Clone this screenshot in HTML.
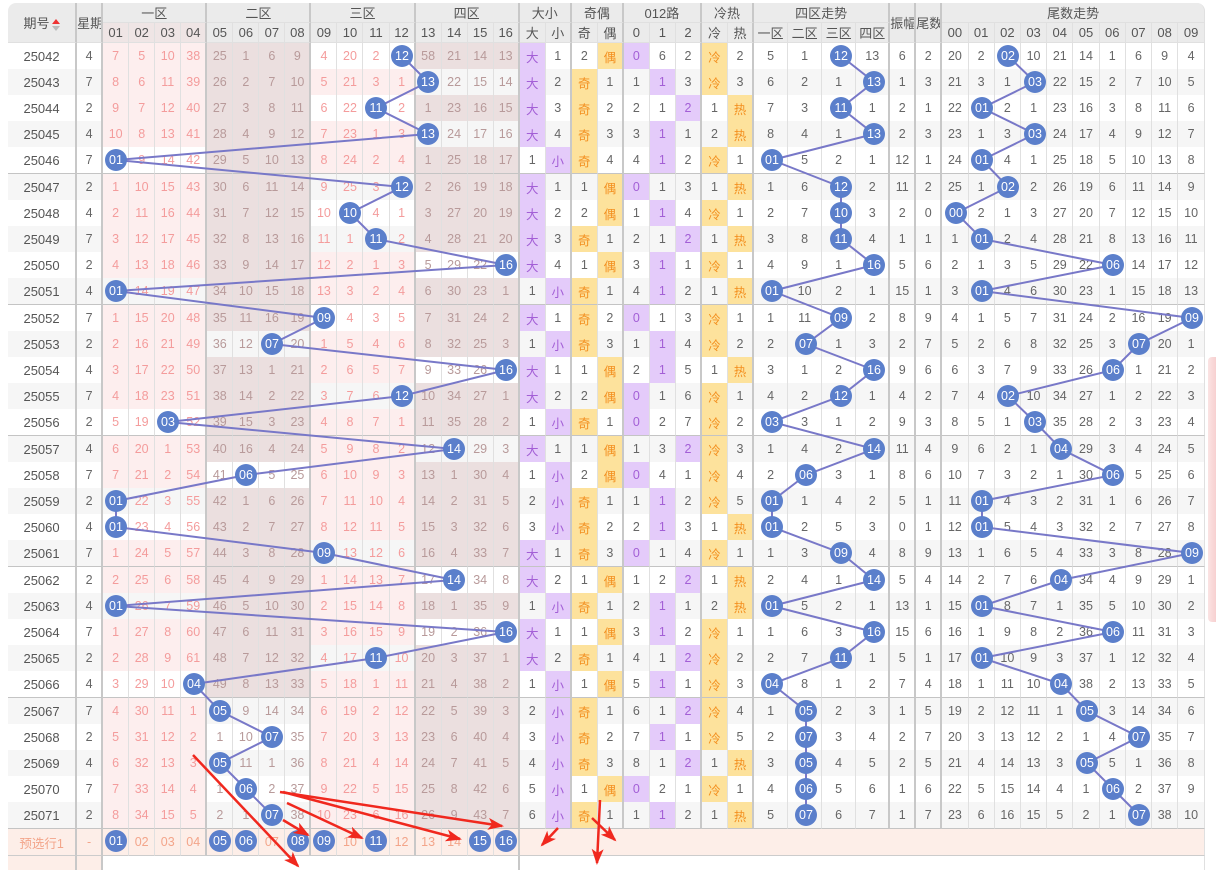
<!DOCTYPE html>
<html><head><meta charset="utf-8">
<style>
body{margin:0;width:1216px;height:869px;overflow:hidden;background:#fff;font-family:"Liberation Sans","Noto Sans CJK SC",sans-serif;position:relative}
table{position:absolute;left:8px;top:3px;border-collapse:separate;border-spacing:0;table-layout:fixed;width:1197px;font-size:12.5px;color:#666}
td,th{padding:0;text-align:center;border-right:1px solid #e0e0e0;white-space:nowrap;overflow:hidden;box-sizing:border-box}
th{background:#ebebeb;font-weight:normal;color:#555;height:20px;font-size:13px;border-bottom:1px solid #e0e0e0}
th.pk{background:#efe5e5}
th.r,td.r{border-right:2px solid #c8c8c8}
tr.d{height:26px}
tr.d td{height:26px}
tr.d.e td{height:27px}
tr.s{background:#f6f6f6}
tr.e td{border-bottom:1px solid #c4c4c4}
tr.d td:nth-child(1){color:#555;font-size:13px}
tr.d td:nth-child(1),tr.d td:nth-child(2),tr.d td:nth-child(6),tr.d td:nth-child(10),tr.d td:nth-child(14),tr.d td:nth-child(18),tr.d td:nth-child(20),tr.d td:nth-child(22),tr.d td:nth-child(25),tr.d td:nth-child(27),tr.d td:nth-child(31),tr.d td:nth-child(32),tr.d td:nth-child(33){border-right:2px solid #c8c8c8}
tr.d td:nth-child(n+3):nth-child(-n+6),tr.d td:nth-child(n+11):nth-child(-n+14){color:#f49c9c;background:#fdeeee}
tr.d td:nth-child(n+7):nth-child(-n+10),tr.d td:nth-child(n+15):nth-child(-n+18){color:#b89a9a;background:#ebdfdf}
tr.h1 td:nth-child(n+3):nth-child(-n+6){background:transparent!important}
tr.h2 td:nth-child(n+7):nth-child(-n+10){background:transparent!important}
tr.h3 td:nth-child(n+11):nth-child(-n+14){background:transparent!important}
tr.h4 td:nth-child(n+15):nth-child(-n+18){background:transparent!important}
td.v{background:#e4cbfa!important;color:#a35fd6}
td.o{background:#fde29c!important;color:#f39020}
tr.ps td{height:27px;background:#fdeee8;color:#f3a58a;font-size:12.5px;border-bottom:1px solid #ccc}
tr.bl td{height:14px;background:#fff}
.sort{display:inline-block;vertical-align:middle;margin-left:2px;width:8px;height:12px;position:relative}
.sort:before{content:"";position:absolute;left:0;top:0;border:4px solid transparent;border-bottom:5px solid #e33;border-top:0}
.sort:after{content:"";position:absolute;left:0;top:7px;border:4px solid transparent;border-top:5px solid #bbb;border-bottom:0}
</style></head><body>
<table>
<colgroup><col style="width:69px"><col style="width:26px">
<col style="width:26px"><col style="width:26px"><col style="width:26px"><col style="width:26px"><col style="width:26px"><col style="width:26px"><col style="width:26px"><col style="width:26px"><col style="width:26px"><col style="width:26px"><col style="width:26px"><col style="width:26px"><col style="width:26px"><col style="width:26px"><col style="width:26px"><col style="width:26px">
<col style="width:26px"><col style="width:26px"><col style="width:26px"><col style="width:26px"><col style="width:26px"><col style="width:26px"><col style="width:26px"><col style="width:26px"><col style="width:26px">
<col style="width:34px"><col style="width:34px"><col style="width:34px"><col style="width:34px"><col style="width:26px"><col style="width:26px">
<col style="width:26.2px"><col style="width:26.2px"><col style="width:26.2px"><col style="width:26.2px"><col style="width:26.2px"><col style="width:26.2px"><col style="width:26.2px"><col style="width:26.2px"><col style="width:26.2px"><col style="width:26.2px"></colgroup>
<thead>
<tr><th rowspan="2" class="r" style="border-top-left-radius:8px">期号<span class="sort"></span></th><th rowspan="2" class="r">星期</th><th colspan="4" class="r">一区</th><th colspan="4" class="r">二区</th><th colspan="4" class="r">三区</th><th colspan="4" class="r">四区</th><th colspan="2" class="r">大小</th><th colspan="2" class="r">奇偶</th><th colspan="3" class="r">012路</th><th colspan="2" class="r">冷热</th><th colspan="4" class="r">四区走势</th><th rowspan="2" class="r">振幅</th><th rowspan="2" class="r">尾数</th><th colspan="10" style="border-top-right-radius:8px">尾数走势</th></tr>
<tr><th class="pk">01</th><th class="pk">02</th><th class="pk">03</th><th class="pk r">04</th><th>05</th><th>06</th><th>07</th><th class="r">08</th><th>09</th><th>10</th><th>11</th><th class="r">12</th><th>13</th><th>14</th><th>15</th><th class="r">16</th><th>大</th><th class="r">小</th><th>奇</th><th class="r">偶</th><th>0</th><th>1</th><th class="r">2</th><th>冷</th><th class="r">热</th><th>一区</th><th>二区</th><th>三区</th><th class="r">四区</th><th>00</th><th>01</th><th>02</th><th>03</th><th>04</th><th>05</th><th>06</th><th>07</th><th>08</th><th>09</th></tr>
</thead>
<tbody>
<tr class="d h3"><td>25042<td>4<td>7<td>5<td>10<td>38<td>25<td>1<td>6<td>9<td>4<td>20<td>2<td><td>58<td>21<td>14<td>13<td class="v">大<td>1<td>2<td class="o">偶<td class="v">0<td>6<td>2<td class="o">冷<td>2<td>5<td>1<td><td>13<td>6<td>2<td>20<td>2<td><td>10<td>21<td>14<td>1<td>6<td>9<td>4</tr>
<tr class="d s h4"><td>25043<td>7<td>8<td>6<td>11<td>39<td>26<td>2<td>7<td>10<td>5<td>21<td>3<td>1<td><td>22<td>15<td>14<td class="v">大<td>2<td class="o">奇<td>1<td>1<td class="v">1<td>3<td class="o">冷<td>3<td>6<td>2<td>1<td><td>1<td>3<td>21<td>3<td>1<td><td>22<td>15<td>2<td>7<td>10<td>5</tr>
<tr class="d h3"><td>25044<td>2<td>9<td>7<td>12<td>40<td>27<td>3<td>8<td>11<td>6<td>22<td><td>2<td>1<td>23<td>16<td>15<td class="v">大<td>3<td class="o">奇<td>2<td>2<td>1<td class="v">2<td>1<td class="o">热<td>7<td>3<td><td>1<td>2<td>1<td>22<td><td>2<td>1<td>23<td>16<td>3<td>8<td>11<td>6</tr>
<tr class="d s h4"><td>25045<td>4<td>10<td>8<td>13<td>41<td>28<td>4<td>9<td>12<td>7<td>23<td>1<td>3<td><td>24<td>17<td>16<td class="v">大<td>4<td class="o">奇<td>3<td>3<td class="v">1<td>1<td>2<td class="o">热<td>8<td>4<td>1<td><td>2<td>3<td>23<td>1<td>3<td><td>24<td>17<td>4<td>9<td>12<td>7</tr>
<tr class="d e h1"><td>25046<td>7<td><td>9<td>14<td>42<td>29<td>5<td>10<td>13<td>8<td>24<td>2<td>4<td>1<td>25<td>18<td>17<td>1<td class="v">小<td class="o">奇<td>4<td>4<td class="v">1<td>2<td class="o">冷<td>1<td><td>5<td>2<td>1<td>12<td>1<td>24<td><td>4<td>1<td>25<td>18<td>5<td>10<td>13<td>8</tr>
<tr class="d s h3"><td>25047<td>2<td>1<td>10<td>15<td>43<td>30<td>6<td>11<td>14<td>9<td>25<td>3<td><td>2<td>26<td>19<td>18<td class="v">大<td>1<td>1<td class="o">偶<td class="v">0<td>1<td>3<td>1<td class="o">热<td>1<td>6<td><td>2<td>11<td>2<td>25<td>1<td><td>2<td>26<td>19<td>6<td>11<td>14<td>9</tr>
<tr class="d h3"><td>25048<td>4<td>2<td>11<td>16<td>44<td>31<td>7<td>12<td>15<td>10<td><td>4<td>1<td>3<td>27<td>20<td>19<td class="v">大<td>2<td>2<td class="o">偶<td>1<td class="v">1<td>4<td class="o">冷<td>1<td>2<td>7<td><td>3<td>2<td>0<td><td>2<td>1<td>3<td>27<td>20<td>7<td>12<td>15<td>10</tr>
<tr class="d s h3"><td>25049<td>7<td>3<td>12<td>17<td>45<td>32<td>8<td>13<td>16<td>11<td>1<td><td>2<td>4<td>28<td>21<td>20<td class="v">大<td>3<td class="o">奇<td>1<td>2<td>1<td class="v">2<td>1<td class="o">热<td>3<td>8<td><td>4<td>1<td>1<td>1<td><td>2<td>4<td>28<td>21<td>8<td>13<td>16<td>11</tr>
<tr class="d h4"><td>25050<td>2<td>4<td>13<td>18<td>46<td>33<td>9<td>14<td>17<td>12<td>2<td>1<td>3<td>5<td>29<td>22<td><td class="v">大<td>4<td>1<td class="o">偶<td>3<td class="v">1<td>1<td class="o">冷<td>1<td>4<td>9<td>1<td><td>5<td>6<td>2<td>1<td>3<td>5<td>29<td>22<td><td>14<td>17<td>12</tr>
<tr class="d s e h1"><td>25051<td>4<td><td>14<td>19<td>47<td>34<td>10<td>15<td>18<td>13<td>3<td>2<td>4<td>6<td>30<td>23<td>1<td>1<td class="v">小<td class="o">奇<td>1<td>4<td class="v">1<td>2<td>1<td class="o">热<td><td>10<td>2<td>1<td>15<td>1<td>3<td><td>4<td>6<td>30<td>23<td>1<td>15<td>18<td>13</tr>
<tr class="d h3"><td>25052<td>7<td>1<td>15<td>20<td>48<td>35<td>11<td>16<td>19<td><td>4<td>3<td>5<td>7<td>31<td>24<td>2<td class="v">大<td>1<td class="o">奇<td>2<td class="v">0<td>1<td>3<td class="o">冷<td>1<td>1<td>11<td><td>2<td>8<td>9<td>4<td>1<td>5<td>7<td>31<td>24<td>2<td>16<td>19<td></tr>
<tr class="d s h2"><td>25053<td>2<td>2<td>16<td>21<td>49<td>36<td>12<td><td>20<td>1<td>5<td>4<td>6<td>8<td>32<td>25<td>3<td>1<td class="v">小<td class="o">奇<td>3<td>1<td class="v">1<td>4<td class="o">冷<td>2<td>2<td><td>1<td>3<td>2<td>7<td>5<td>2<td>6<td>8<td>32<td>25<td>3<td><td>20<td>1</tr>
<tr class="d h4"><td>25054<td>4<td>3<td>17<td>22<td>50<td>37<td>13<td>1<td>21<td>2<td>6<td>5<td>7<td>9<td>33<td>26<td><td class="v">大<td>1<td>1<td class="o">偶<td>2<td class="v">1<td>5<td>1<td class="o">热<td>3<td>1<td>2<td><td>9<td>6<td>6<td>3<td>7<td>9<td>33<td>26<td><td>1<td>21<td>2</tr>
<tr class="d s h3"><td>25055<td>7<td>4<td>18<td>23<td>51<td>38<td>14<td>2<td>22<td>3<td>7<td>6<td><td>10<td>34<td>27<td>1<td class="v">大<td>2<td>2<td class="o">偶<td class="v">0<td>1<td>6<td class="o">冷<td>1<td>4<td>2<td><td>1<td>4<td>2<td>7<td>4<td><td>10<td>34<td>27<td>1<td>2<td>22<td>3</tr>
<tr class="d e h1"><td>25056<td>2<td>5<td>19<td><td>52<td>39<td>15<td>3<td>23<td>4<td>8<td>7<td>1<td>11<td>35<td>28<td>2<td>1<td class="v">小<td class="o">奇<td>1<td class="v">0<td>2<td>7<td class="o">冷<td>2<td><td>3<td>1<td>2<td>9<td>3<td>8<td>5<td>1<td><td>35<td>28<td>2<td>3<td>23<td>4</tr>
<tr class="d s h4"><td>25057<td>4<td>6<td>20<td>1<td>53<td>40<td>16<td>4<td>24<td>5<td>9<td>8<td>2<td>12<td><td>29<td>3<td class="v">大<td>1<td>1<td class="o">偶<td>1<td>3<td class="v">2<td class="o">冷<td>3<td>1<td>4<td>2<td><td>11<td>4<td>9<td>6<td>2<td>1<td><td>29<td>3<td>4<td>24<td>5</tr>
<tr class="d h2"><td>25058<td>7<td>7<td>21<td>2<td>54<td>41<td><td>5<td>25<td>6<td>10<td>9<td>3<td>13<td>1<td>30<td>4<td>1<td class="v">小<td>2<td class="o">偶<td class="v">0<td>4<td>1<td class="o">冷<td>4<td>2<td><td>3<td>1<td>8<td>6<td>10<td>7<td>3<td>2<td>1<td>30<td><td>5<td>25<td>6</tr>
<tr class="d s h1"><td>25059<td>2<td><td>22<td>3<td>55<td>42<td>1<td>6<td>26<td>7<td>11<td>10<td>4<td>14<td>2<td>31<td>5<td>2<td class="v">小<td class="o">奇<td>1<td>1<td class="v">1<td>2<td class="o">冷<td>5<td><td>1<td>4<td>2<td>5<td>1<td>11<td><td>4<td>3<td>2<td>31<td>1<td>6<td>26<td>7</tr>
<tr class="d h1"><td>25060<td>4<td><td>23<td>4<td>56<td>43<td>2<td>7<td>27<td>8<td>12<td>11<td>5<td>15<td>3<td>32<td>6<td>3<td class="v">小<td class="o">奇<td>2<td>2<td class="v">1<td>3<td>1<td class="o">热<td><td>2<td>5<td>3<td>0<td>1<td>12<td><td>5<td>4<td>3<td>32<td>2<td>7<td>27<td>8</tr>
<tr class="d s e h3"><td>25061<td>7<td>1<td>24<td>5<td>57<td>44<td>3<td>8<td>28<td><td>13<td>12<td>6<td>16<td>4<td>33<td>7<td class="v">大<td>1<td class="o">奇<td>3<td class="v">0<td>1<td>4<td class="o">冷<td>1<td>1<td>3<td><td>4<td>8<td>9<td>13<td>1<td>6<td>5<td>4<td>33<td>3<td>8<td>28<td></tr>
<tr class="d h4"><td>25062<td>2<td>2<td>25<td>6<td>58<td>45<td>4<td>9<td>29<td>1<td>14<td>13<td>7<td>17<td><td>34<td>8<td class="v">大<td>2<td>1<td class="o">偶<td>1<td>2<td class="v">2<td>1<td class="o">热<td>2<td>4<td>1<td><td>5<td>4<td>14<td>2<td>7<td>6<td><td>34<td>4<td>9<td>29<td>1</tr>
<tr class="d s h1"><td>25063<td>4<td><td>26<td>7<td>59<td>46<td>5<td>10<td>30<td>2<td>15<td>14<td>8<td>18<td>1<td>35<td>9<td>1<td class="v">小<td class="o">奇<td>1<td>2<td class="v">1<td>1<td>2<td class="o">热<td><td>5<td>2<td>1<td>13<td>1<td>15<td><td>8<td>7<td>1<td>35<td>5<td>10<td>30<td>2</tr>
<tr class="d h4"><td>25064<td>7<td>1<td>27<td>8<td>60<td>47<td>6<td>11<td>31<td>3<td>16<td>15<td>9<td>19<td>2<td>36<td><td class="v">大<td>1<td>1<td class="o">偶<td>3<td class="v">1<td>2<td class="o">冷<td>1<td>1<td>6<td>3<td><td>15<td>6<td>16<td>1<td>9<td>8<td>2<td>36<td><td>11<td>31<td>3</tr>
<tr class="d s h3"><td>25065<td>2<td>2<td>28<td>9<td>61<td>48<td>7<td>12<td>32<td>4<td>17<td><td>10<td>20<td>3<td>37<td>1<td class="v">大<td>2<td class="o">奇<td>1<td>4<td>1<td class="v">2<td class="o">冷<td>2<td>2<td>7<td><td>1<td>5<td>1<td>17<td><td>10<td>9<td>3<td>37<td>1<td>12<td>32<td>4</tr>
<tr class="d e h1"><td>25066<td>4<td>3<td>29<td>10<td><td>49<td>8<td>13<td>33<td>5<td>18<td>1<td>11<td>21<td>4<td>38<td>2<td>1<td class="v">小<td>1<td class="o">偶<td>5<td class="v">1<td>1<td class="o">冷<td>3<td><td>8<td>1<td>2<td>7<td>4<td>18<td>1<td>11<td>10<td><td>38<td>2<td>13<td>33<td>5</tr>
<tr class="d s h2"><td>25067<td>7<td>4<td>30<td>11<td>1<td><td>9<td>14<td>34<td>6<td>19<td>2<td>12<td>22<td>5<td>39<td>3<td>2<td class="v">小<td class="o">奇<td>1<td>6<td>1<td class="v">2<td class="o">冷<td>4<td>1<td><td>2<td>3<td>1<td>5<td>19<td>2<td>12<td>11<td>1<td><td>3<td>14<td>34<td>6</tr>
<tr class="d h2"><td>25068<td>2<td>5<td>31<td>12<td>2<td>1<td>10<td><td>35<td>7<td>20<td>3<td>13<td>23<td>6<td>40<td>4<td>3<td class="v">小<td class="o">奇<td>2<td>7<td class="v">1<td>1<td class="o">冷<td>5<td>2<td><td>3<td>4<td>2<td>7<td>20<td>3<td>13<td>12<td>2<td>1<td>4<td><td>35<td>7</tr>
<tr class="d s h2"><td>25069<td>4<td>6<td>32<td>13<td>3<td><td>11<td>1<td>36<td>8<td>21<td>4<td>14<td>24<td>7<td>41<td>5<td>4<td class="v">小<td class="o">奇<td>3<td>8<td>1<td class="v">2<td>1<td class="o">热<td>3<td><td>4<td>5<td>2<td>5<td>21<td>4<td>14<td>13<td>3<td><td>5<td>1<td>36<td>8</tr>
<tr class="d h2"><td>25070<td>7<td>7<td>33<td>14<td>4<td>1<td><td>2<td>37<td>9<td>22<td>5<td>15<td>25<td>8<td>42<td>6<td>5<td class="v">小<td>1<td class="o">偶<td class="v">0<td>2<td>1<td class="o">冷<td>1<td>4<td><td>5<td>6<td>1<td>6<td>22<td>5<td>15<td>14<td>4<td>1<td><td>2<td>37<td>9</tr>
<tr class="d s e h2"><td>25071<td>2<td>8<td>34<td>15<td>5<td>2<td>1<td><td>38<td>10<td>23<td>6<td>16<td>26<td>9<td>43<td>7<td>6<td class="v">小<td class="o">奇<td>1<td>1<td class="v">1<td>2<td>1<td class="o">热<td>5<td><td>6<td>7<td>1<td>7<td>23<td>6<td>16<td>15<td>5<td>2<td>1<td><td>38<td>10</tr>
<tr class="ps"><td class="r">预选行1<td class="r">-<td><td>02<td>03<td class="r">04<td><td><td>07<td class="r"><td><td>10<td><td class="r">12<td>13<td>14<td><td class="r"><td colspan="25"></tr>
<tr class="bl"><td class="r" style="background:#fdeee8"><td class="r" style="background:#fdeee8"><td colspan="16" class="r"><td colspan="25"></tr>
</tbody></table>
<div style="position:absolute;left:1208px;top:357px;width:8px;height:265px;background:linear-gradient(90deg,#fbe3e3,#f7d0d0);border-radius:4px 0 0 4px"></div>
<svg width="1216" height="869" style="position:absolute;left:0;top:0" xmlns="http://www.w3.org/2000/svg">
<defs><marker id="ar" markerWidth="16" markerHeight="12" refX="14" refY="6" orient="auto" markerUnits="userSpaceOnUse"><path d="M0,0 L16,6 L0,12 L4,6 Z" fill="#f0281e"/></marker></defs>
<g fill="none" stroke="#7878c8" stroke-width="2">
<polyline points="402,56 428,82 376,108 428,134 116,160 402,187 350,213 376,239 506,265 116,291 324,318 272,344 506,370 402,396 168,422 454,449 246,475 116,501 116,527 324,553 454,580 116,606 506,632 376,658 194,684 220,711 272,737 220,763 246,789 272,815"/>
<polyline points="841,56 874,82 841,108 874,134 772,160 841,187 841,213 841,239 874,265 772,291 841,318 806,344 874,370 841,396 772,422 874,449 806,475 772,501 772,527 841,553 874,580 772,606 874,632 841,658 772,684 806,711 806,737 806,763 806,789 806,815"/>
<polyline points="1008,56 1035,82 982,108 1035,134 982,160 1008,187 956,213 982,239 1113,265 982,291 1192,318 1139,344 1113,370 1008,396 1035,422 1061,449 1113,475 982,501 982,527 1192,553 1061,580 982,606 1113,632 982,658 1061,684 1087,711 1139,737 1087,763 1113,789 1139,815"/>
</g>
<g fill="#5b7fcb">
<circle cx="402" cy="56" r="11"/><circle cx="428" cy="82" r="11"/><circle cx="376" cy="108" r="11"/><circle cx="428" cy="134" r="11"/><circle cx="116" cy="160" r="11"/><circle cx="402" cy="187" r="11"/><circle cx="350" cy="213" r="11"/><circle cx="376" cy="239" r="11"/><circle cx="506" cy="265" r="11"/><circle cx="116" cy="291" r="11"/><circle cx="324" cy="318" r="11"/><circle cx="272" cy="344" r="11"/><circle cx="506" cy="370" r="11"/><circle cx="402" cy="396" r="11"/><circle cx="168" cy="422" r="11"/><circle cx="454" cy="449" r="11"/><circle cx="246" cy="475" r="11"/><circle cx="116" cy="501" r="11"/><circle cx="116" cy="527" r="11"/><circle cx="324" cy="553" r="11"/><circle cx="454" cy="580" r="11"/><circle cx="116" cy="606" r="11"/><circle cx="506" cy="632" r="11"/><circle cx="376" cy="658" r="11"/><circle cx="194" cy="684" r="11"/><circle cx="220" cy="711" r="11"/><circle cx="272" cy="737" r="11"/><circle cx="220" cy="763" r="11"/><circle cx="246" cy="789" r="11"/><circle cx="272" cy="815" r="11"/>
<circle cx="841" cy="56" r="11"/><circle cx="874" cy="82" r="11"/><circle cx="841" cy="108" r="11"/><circle cx="874" cy="134" r="11"/><circle cx="772" cy="160" r="11"/><circle cx="841" cy="187" r="11"/><circle cx="841" cy="213" r="11"/><circle cx="841" cy="239" r="11"/><circle cx="874" cy="265" r="11"/><circle cx="772" cy="291" r="11"/><circle cx="841" cy="318" r="11"/><circle cx="806" cy="344" r="11"/><circle cx="874" cy="370" r="11"/><circle cx="841" cy="396" r="11"/><circle cx="772" cy="422" r="11"/><circle cx="874" cy="449" r="11"/><circle cx="806" cy="475" r="11"/><circle cx="772" cy="501" r="11"/><circle cx="772" cy="527" r="11"/><circle cx="841" cy="553" r="11"/><circle cx="874" cy="580" r="11"/><circle cx="772" cy="606" r="11"/><circle cx="874" cy="632" r="11"/><circle cx="841" cy="658" r="11"/><circle cx="772" cy="684" r="11"/><circle cx="806" cy="711" r="11"/><circle cx="806" cy="737" r="11"/><circle cx="806" cy="763" r="11"/><circle cx="806" cy="789" r="11"/><circle cx="806" cy="815" r="11"/>
<circle cx="1008" cy="56" r="11"/><circle cx="1035" cy="82" r="11"/><circle cx="982" cy="108" r="11"/><circle cx="1035" cy="134" r="11"/><circle cx="982" cy="160" r="11"/><circle cx="1008" cy="187" r="11"/><circle cx="956" cy="213" r="11"/><circle cx="982" cy="239" r="11"/><circle cx="1113" cy="265" r="11"/><circle cx="982" cy="291" r="11"/><circle cx="1192" cy="318" r="11"/><circle cx="1139" cy="344" r="11"/><circle cx="1113" cy="370" r="11"/><circle cx="1008" cy="396" r="11"/><circle cx="1035" cy="422" r="11"/><circle cx="1061" cy="449" r="11"/><circle cx="1113" cy="475" r="11"/><circle cx="982" cy="501" r="11"/><circle cx="982" cy="527" r="11"/><circle cx="1192" cy="553" r="11"/><circle cx="1061" cy="580" r="11"/><circle cx="982" cy="606" r="11"/><circle cx="1113" cy="632" r="11"/><circle cx="982" cy="658" r="11"/><circle cx="1061" cy="684" r="11"/><circle cx="1087" cy="711" r="11"/><circle cx="1139" cy="737" r="11"/><circle cx="1087" cy="763" r="11"/><circle cx="1113" cy="789" r="11"/><circle cx="1139" cy="815" r="11"/>
<circle cx="116" cy="841" r="11"/><circle cx="220" cy="841" r="11"/><circle cx="246" cy="841" r="11"/><circle cx="298" cy="841" r="11"/><circle cx="324" cy="841" r="11"/><circle cx="376" cy="841" r="11"/><circle cx="480" cy="841" r="11"/><circle cx="506" cy="841" r="11"/>
</g>
<g fill="#fff" font-family="Liberation Sans, sans-serif" font-size="12.5" text-anchor="middle">
<text x="402" y="60">12</text><text x="428" y="86">13</text><text x="376" y="112">11</text><text x="428" y="138">13</text><text x="116" y="164">01</text><text x="402" y="191">12</text><text x="350" y="217">10</text><text x="376" y="243">11</text><text x="506" y="269">16</text><text x="116" y="295">01</text><text x="324" y="322">09</text><text x="272" y="348">07</text><text x="506" y="374">16</text><text x="402" y="400">12</text><text x="168" y="426">03</text><text x="454" y="453">14</text><text x="246" y="479">06</text><text x="116" y="505">01</text><text x="116" y="531">01</text><text x="324" y="557">09</text><text x="454" y="584">14</text><text x="116" y="610">01</text><text x="506" y="636">16</text><text x="376" y="662">11</text><text x="194" y="688">04</text><text x="220" y="715">05</text><text x="272" y="741">07</text><text x="220" y="767">05</text><text x="246" y="793">06</text><text x="272" y="819">07</text>
<text x="841" y="60">12</text><text x="874" y="86">13</text><text x="841" y="112">11</text><text x="874" y="138">13</text><text x="772" y="164">01</text><text x="841" y="191">12</text><text x="841" y="217">10</text><text x="841" y="243">11</text><text x="874" y="269">16</text><text x="772" y="295">01</text><text x="841" y="322">09</text><text x="806" y="348">07</text><text x="874" y="374">16</text><text x="841" y="400">12</text><text x="772" y="426">03</text><text x="874" y="453">14</text><text x="806" y="479">06</text><text x="772" y="505">01</text><text x="772" y="531">01</text><text x="841" y="557">09</text><text x="874" y="584">14</text><text x="772" y="610">01</text><text x="874" y="636">16</text><text x="841" y="662">11</text><text x="772" y="688">04</text><text x="806" y="715">05</text><text x="806" y="741">07</text><text x="806" y="767">05</text><text x="806" y="793">06</text><text x="806" y="819">07</text>
<text x="1008" y="60">02</text><text x="1035" y="86">03</text><text x="982" y="112">01</text><text x="1035" y="138">03</text><text x="982" y="164">01</text><text x="1008" y="191">02</text><text x="956" y="217">00</text><text x="982" y="243">01</text><text x="1113" y="269">06</text><text x="982" y="295">01</text><text x="1192" y="322">09</text><text x="1139" y="348">07</text><text x="1113" y="374">06</text><text x="1008" y="400">02</text><text x="1035" y="426">03</text><text x="1061" y="453">04</text><text x="1113" y="479">06</text><text x="982" y="505">01</text><text x="982" y="531">01</text><text x="1192" y="557">09</text><text x="1061" y="584">04</text><text x="982" y="610">01</text><text x="1113" y="636">06</text><text x="982" y="662">01</text><text x="1061" y="688">04</text><text x="1087" y="715">05</text><text x="1139" y="741">07</text><text x="1087" y="767">05</text><text x="1113" y="793">06</text><text x="1139" y="819">07</text>
<text x="116" y="845">01</text><text x="220" y="845">05</text><text x="246" y="845">06</text><text x="298" y="845">08</text><text x="324" y="845">09</text><text x="376" y="845">11</text><text x="480" y="845">15</text><text x="506" y="845">16</text>
</g>
<g stroke="#f0281e" stroke-width="2.5" fill="none" marker-end="url(#ar)">
<line x1="193" y1="755" x2="298" y2="866"/>
<line x1="283" y1="820" x2="308" y2="835"/>
<line x1="287" y1="803" x2="362" y2="838"/>
<line x1="283" y1="792" x2="460" y2="839"/>
<line x1="280" y1="792" x2="502" y2="826"/>
<line x1="558" y1="828" x2="542" y2="845"/>
<line x1="600" y1="800" x2="597" y2="863"/>
<line x1="592" y1="818" x2="615" y2="840"/>
</g>
</svg>
</body></html>
